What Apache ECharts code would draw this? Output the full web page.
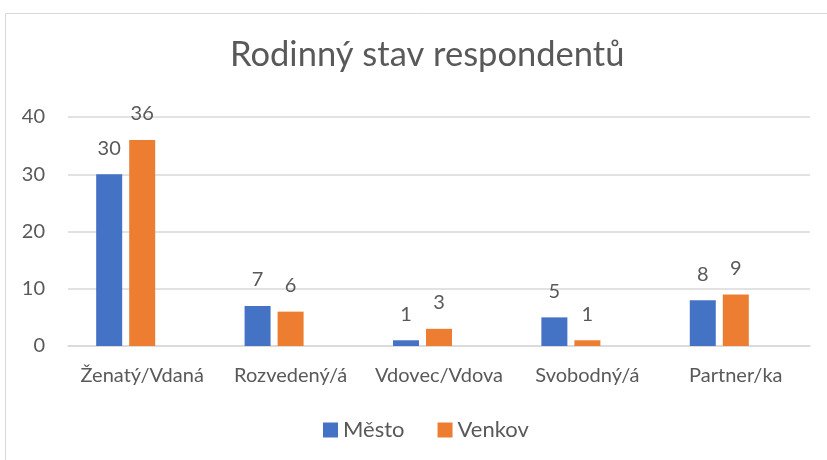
<!DOCTYPE html>
<html>
<head>
<meta charset="utf-8">
<script src="https://cdn.jsdelivr.net/npm/echarts@6/dist/echarts.min.js"></script>
<style>
  html, body { margin: 0; padding: 0; background: #fff; }
  #chart { width: 827px; height: 460px; }
</style>
</head>
<body>
<div id="chart"></div>
<script>
const categories = ["Ženatý/Vdaná", "Rozvedený/á", "Vdovec/Vdova", "Svobodný/á", "Partner/ka"];
const mestoValues = [30, 7, 1, 5, 8];
const venkovValues = [36, 6, 3, 1, 9];
const yTicks = { min: 0, max: 40, interval: 10 };

const textColor = "#595959";
const fontFamily = "Lato, 'Open Sans', sans-serif";

const labelStyle = {
  show: true,
  position: "top",
  distance: 16,
  color: textColor,
  fontSize: 20,
  fontFamily: fontFamily
};

const chart = echarts.init(document.getElementById("chart"));
chart.setOption({
  animation: false,
  graphic: [
    {
      type: "rect",
      shape: { x: 5.5, y: 13.5, width: 900, height: 600 },
      style: { fill: "none", stroke: "#d9d9d9", lineWidth: 1 },
      silent: true
    }
  ],
  title: {
    text: "Rodinný stav respondentů",
    left: 225,
    top: 32,
    textStyle: { color: textColor, fontSize: 34.5, fontWeight: "normal", fontFamily: fontFamily }
  },
  legend: {
    bottom: 14,
    left: 318,
    itemWidth: 15,
    itemHeight: 15,
    itemGap: 33,
    icon: "rect",
    data: ["Město", "Venkov"],
    textStyle: { color: textColor, fontSize: 22, fontFamily: fontFamily }
  },
  grid: { left: 68, right: 17, top: 117, bottom: 114, containLabel: false },
  xAxis: {
    type: "category",
    data: categories,
    axisTick: { show: false },
    axisLine: { show: true, lineStyle: { color: "#d9d9d9", width: 1.5 } },
    axisLabel: { color: textColor, fontSize: 20, fontFamily: fontFamily, margin: 20, interval: 0 }
  },
  yAxis: {
    type: "value",
    min: yTicks.min,
    max: yTicks.max,
    interval: yTicks.interval,
    axisLine: { show: false },
    axisTick: { show: false },
    splitLine: { lineStyle: { color: "#d9d9d9", width: 1.5 } },
    axisLabel: { color: textColor, fontSize: 20, fontFamily: fontFamily, margin: 23 }
  },
  series: [
    {
      name: "Město",
      type: "bar",
      barWidth: 26,
      barGap: "27%",
      itemStyle: { color: "#4472C4" },
      label: labelStyle,
      data: mestoValues
    },
    {
      name: "Venkov",
      type: "bar",
      barWidth: 26,
      barGap: "27%",
      itemStyle: { color: "#ED7D31" },
      label: labelStyle,
      data: venkovValues
    },
    {
      // empty third series slot, as in the source workbook
      name: "",
      type: "bar",
      barWidth: 26,
      barGap: "27%",
      data: []
    }
  ]
});
</script>
</body>
</html>
